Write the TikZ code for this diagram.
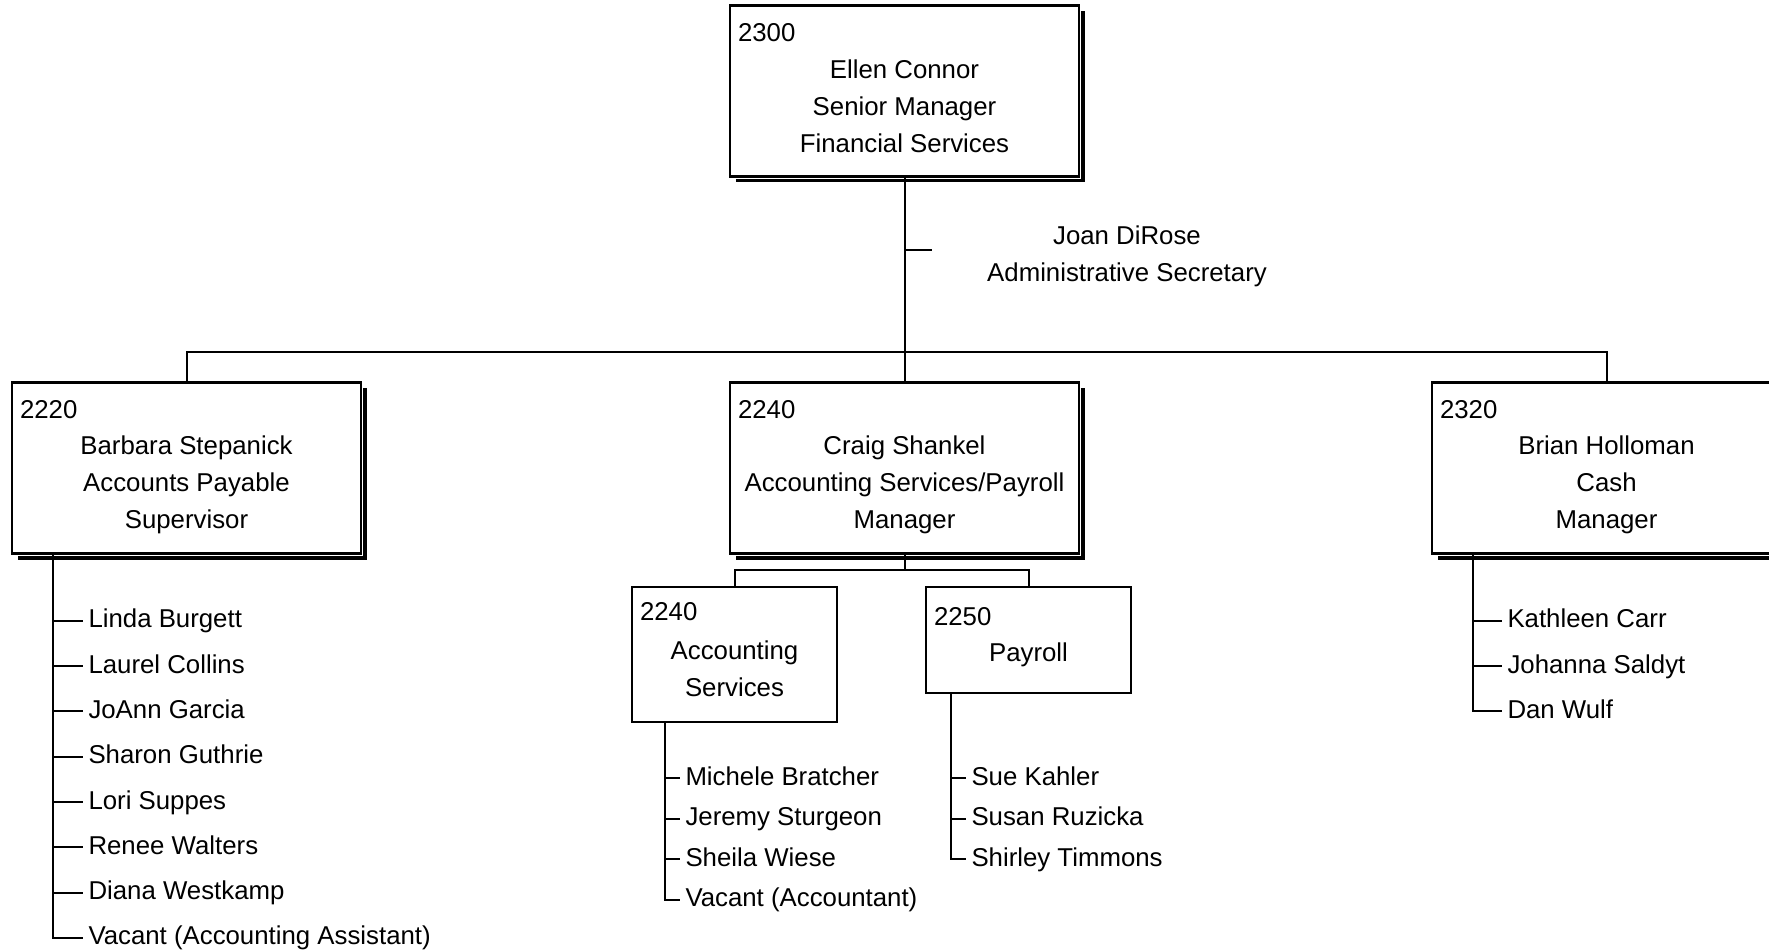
\documentclass[tikz,border=0pt]{standalone}
\usepackage{fontspec}
\setmainfont{Liberation Sans}
\usetikzlibrary{shadows}

\begin{document}
\begin{tikzpicture}[x=0.5pt,y=-0.5pt,
  font=\fontsize{12.9}{18.6}\selectfont,
  headbox/.style={draw, line width=1.3pt, fill=white, inner sep=0pt, outer sep=0pt,
    minimum width=174.5pt, minimum height=85.5pt,
    drop shadow={shadow xshift=3pt, shadow yshift=-3pt, opacity=1, fill=black},
    preaction={draw=white, line width=2.4pt}},
  unitbox/.style={draw, line width=1pt, fill=white, inner sep=0pt, outer sep=0pt,
    minimum width=102.5pt},
  code/.style={anchor=west, inner sep=0pt},
  boxtext/.style={align=center, inner sep=0pt},
  staff/.style={anchor=west, inner xsep=2.25pt, inner ysep=0pt,
    text height=0.8em, text depth=0.1em},
  every path/.style={line width=1pt}]
\useasboundingbox (0,0) rectangle (1769,952);

%Boxes
\node[headbox] (fin) at (904.5,91) {};
\node[headbox] (ap) at (186.5,468) {};
\node[headbox] (acctpay) at (904.5,468) {};
\node[headbox] (cash) at (1606.5,468) {};
\node[unitbox, minimum height=67.5pt] (acct) at (734.5,654.5) {};
\node[unitbox, minimum height=53pt] (pay) at (1028.5,640) {};

%Lines between boxes
\coordinate (bus) at (904.5,352);
\coordinate (subbus) at (904.5,570);
\coordinate (sectick) at (932,250);
\draw (fin.south) -- (acctpay.north);
\draw (fin.south |- sectick) -- (sectick);
\draw (ap.north) |- (bus) -| (cash.north);
\draw (acctpay.south) -- (subbus);
\draw (acct.north) |- (subbus) -| (pay.north);

% Text Node
\node[code] (fincode) at ([shift={(7,27)}]fin.north west) {2300};
\node[boxtext] (fintext) at (904.5,106) {Ellen Connor\\Senior Manager\\Financial Services};
\node[boxtext] (sec) at (1127,256) {Joan DiRose\\Administrative Secretary};
\node[code] (apcode) at ([shift={(7,27)}]ap.north west) {2220};
\node[boxtext] (aptext) at (186.5,485) {Barbara Stepanick\\Accounts Payable\\Supervisor};
\node[code] (acctpaycode) at ([shift={(7,27)}]acctpay.north west) {2240};
\node[boxtext] (acctpaytext) at (904.5,485) {Craig Shankel\\Accounting Services/Payroll\\Manager};
\node[code] (cashcode) at ([shift={(7,27)}]cash.north west) {2320};
\node[boxtext] (cashtext) at (1606.5,485) {Brian Holloman\\Cash\\Manager};
\node[code] (acctcode) at ([shift={(7,25)}]acct.north west) {2240};
\node[boxtext] (accttext) at (734.5,668.5) {Accounting\\Services};
\node[code] (paycode) at ([shift={(7,30)}]pay.north west) {2250};
\node[boxtext] (paytext) at (1028.5,655) {Payroll};

%Staff lists
\foreach \name [count=\i] in {Linda Burgett, Laurel Collins, JoAnn Garcia, Sharon Guthrie,
    Lori Suppes, Renee Walters, Diana Westkamp, Vacant (Accounting Assistant)}
  \node[staff] (ap\i) at (83,575.5+45.3*\i) {\name};
\foreach \name [count=\i] in {Michele Bratcher, Jeremy Sturgeon, Sheila Wiese, Vacant (Accountant)}
  \node[staff] (acct\i) at (680,737.5+40.5*\i) {\name};
\foreach \name [count=\i] in {Sue Kahler, Susan Ruzicka, Shirley Timmons}
  \node[staff] (pay\i) at (966,737.5+40.5*\i) {\name};
\foreach \name [count=\i] in {Kathleen Carr, Johanna Saldyt, Dan Wulf}
  \node[staff] (cash\i) at (1502,575.5+45.3*\i) {\name};

\coordinate (apline) at ([shift={(41,0)}]ap.south west);
\coordinate (acctline) at ([shift={(33,0)}]acct.south west);
\coordinate (payline) at ([shift={(25,0)}]pay.south west);
\coordinate (cashline) at ([shift={(41,0)}]cash.south west);
\draw (apline) |- (ap8.west);
\foreach \i in {1,...,7} \draw (apline |- ap\i.west) -- (ap\i.west);
\draw (acctline) |- (acct4.west);
\foreach \i in {1,2,3} \draw (acctline |- acct\i.west) -- (acct\i.west);
\draw (payline) |- (pay3.west);
\foreach \i in {1,2} \draw (payline |- pay\i.west) -- (pay\i.west);
\draw (cashline) |- (cash3.west);
\foreach \i in {1,2} \draw (cashline |- cash\i.west) -- (cash\i.west);

\end{tikzpicture}
\end{document}
